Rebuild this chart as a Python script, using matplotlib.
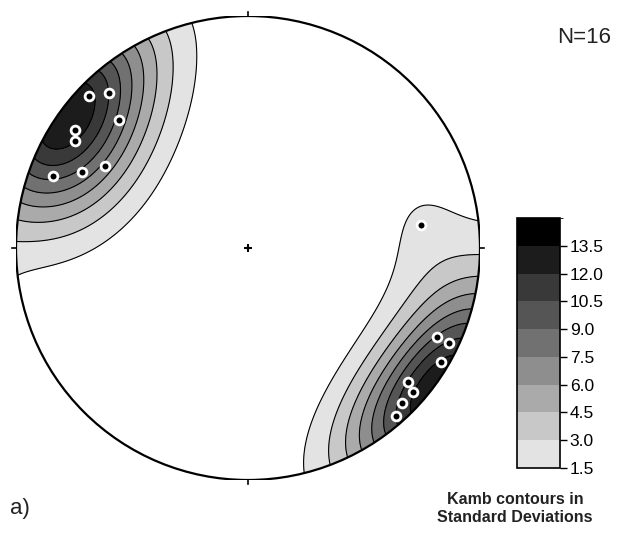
"""
Lower-hemisphere equal-area net with exponential Kamb density contours.
"""

import matplotlib
import matplotlib.pyplot as plt
import numpy as np
from matplotlib.cm import ScalarMappable
from matplotlib.colors import BoundaryNorm, ListedColormap
from matplotlib.patches import Circle

matplotlib.use("Agg")
plt.rcParams["font.family"] = ["Liberation Sans", "DejaVu Sans"]

# ---------------------------------------------------------------------------
# Pole data (trend, plunge in degrees)
# ---------------------------------------------------------------------------
TREND_DEG = [313.7, 318.1, 314.8, 304.3, 301.7, 290.2, 294.6, 299.8,
             82.4, 115.2, 115.3, 120.5, 129.9, 131.1, 135.2, 138.6]
PLUNGE_DEG = [5.8, 11.2, 22.7, 10.6, 13.4, 11.3, 22.3, 29.7,
              25.7, 10.9, 4.7, 3.8, 10.9, 6.3, 6.5, 4.0]

LEVELS = [1.5, 3.0, 4.5, 6.0, 7.5, 9.0, 10.5, 12.0, 13.5, 15.0]
LEVEL_COLORS = ["#e3e3e3", "#c8c8c8", "#aaaaaa", "#8e8e8e", "#717171",
                "#555555", "#393939", "#1c1c1c", "#000000"]
TICK_LABELS = ["1.5", "3.0", "4.5", "6.0", "7.5", "9.0", "10.5", "12.0", "13.5"]
SIGMA = 1.75


def line_to_xyz(trend, plunge):
    tr = np.radians(trend)
    pl = np.radians(plunge)
    return np.column_stack([np.cos(pl) * np.sin(tr), np.cos(pl) * np.cos(tr), np.sin(pl)])


def project(trend, plunge):
    # equal-area (Schmidt) projection onto the unit circle
    tr = np.radians(np.asarray(trend, float))
    pl = np.radians(np.asarray(plunge, float))
    r = np.sqrt(2.0) * np.sin((np.pi / 2 - pl) / 2)
    return r * np.sin(tr), r * np.cos(tr)


def inverse_project(x, y):
    r = np.clip(np.hypot(x, y), 0, np.sqrt(2.0) - 1e-9)
    theta = 2 * np.arcsin(r / np.sqrt(2.0))
    tr = np.arctan2(x, y)
    return np.stack([np.sin(theta) * np.sin(tr), np.sin(theta) * np.cos(tr), np.cos(theta)], axis=-1)


def exponential_kamb(grid_xyz, data_xyz, sigma=SIGMA):
    n = float(len(data_xyz))
    f = 2 * (1.0 + n / sigma ** 2)
    units = np.sqrt(n * (f / 2.0 - 1) / f ** 2)
    cos_dist = np.abs(grid_xyz @ data_xyz.T)
    return np.exp(f * (cos_dist - 1)).sum(axis=-1) / units


def main() -> None:
    fig = plt.figure(figsize=(6.22, 5.38), dpi=100)
    ax = fig.add_axes([16 / 622, 58 / 538, 464 / 622, 464 / 538])
    ax.set_xlim(-1, 1)
    ax.set_ylim(-1, 1)
    ax.set_aspect("equal")
    ax.axis("off")

    g = np.linspace(-1.05, 1.05, 521)
    gx, gy = np.meshgrid(g, g)
    data_xyz = line_to_xyz(np.array(TREND_DEG), np.array(PLUNGE_DEG))
    density = exponential_kamb(inverse_project(gx, gy), data_xyz)

    cmap = ListedColormap(LEVEL_COLORS)
    norm = BoundaryNorm(LEVELS, cmap.N)
    fill_levels = LEVELS[:-1] + [max(LEVELS[-1], density.max() + 1)]
    primitive = Circle((0, 0), 1, transform=ax.transData, facecolor="none")
    cf = ax.contourf(gx, gy, density, levels=fill_levels, colors=LEVEL_COLORS)
    cl = ax.contour(gx, gy, density, levels=LEVELS[:-1], colors="black", linewidths=0.8)
    cf.set_clip_path(primitive)
    cl.set_clip_path(primitive)

    ax.add_patch(Circle((0, 0), 1, facecolor="none", edgecolor="black", linewidth=1.6, zorder=5))
    for ang in (0, 90, 180, 270):
        a = np.radians(ang)
        ax.plot([np.sin(a), 1.018 * np.sin(a)], [np.cos(a), 1.018 * np.cos(a)],
                color="black", linewidth=1.2, clip_on=False, zorder=5)
    ax.plot([0], [0], marker="+", color="black", markersize=6, markeredgewidth=1.5, zorder=6)

    px, py = project(TREND_DEG, PLUNGE_DEG)
    ax.scatter(px, py, s=40, facecolor="black", edgecolor="white", linewidth=2.0, zorder=7)

    cax = fig.add_axes([517 / 622, 70 / 538, 43 / 622, 250 / 538])
    cb = fig.colorbar(ScalarMappable(norm=norm, cmap=cmap), cax=cax, ticks=LEVELS[:-1])
    cb.ax.set_yticklabels(TICK_LABELS)
    cb.ax.tick_params(labelsize=12.5, length=5, width=1, direction="out", pad=2)
    cb.outline.set_linewidth(1.2)

    fig.text(0.983, 0.93, "N=16", ha="right", va="center", fontsize=16, color="#222222")
    fig.text(0.016, 0.055, "a)", ha="left", va="center", fontsize=16, color="#222222")
    fig.text(0.828, 0.055, "Kamb contours in\nStandard Deviations", ha="center", va="center",
             fontsize=11.5, fontweight="bold", color="#222222", linespacing=1.2)

    fig.savefig("out.png", dpi=100)
    plt.close(fig)


if __name__ == "__main__":
    main()
